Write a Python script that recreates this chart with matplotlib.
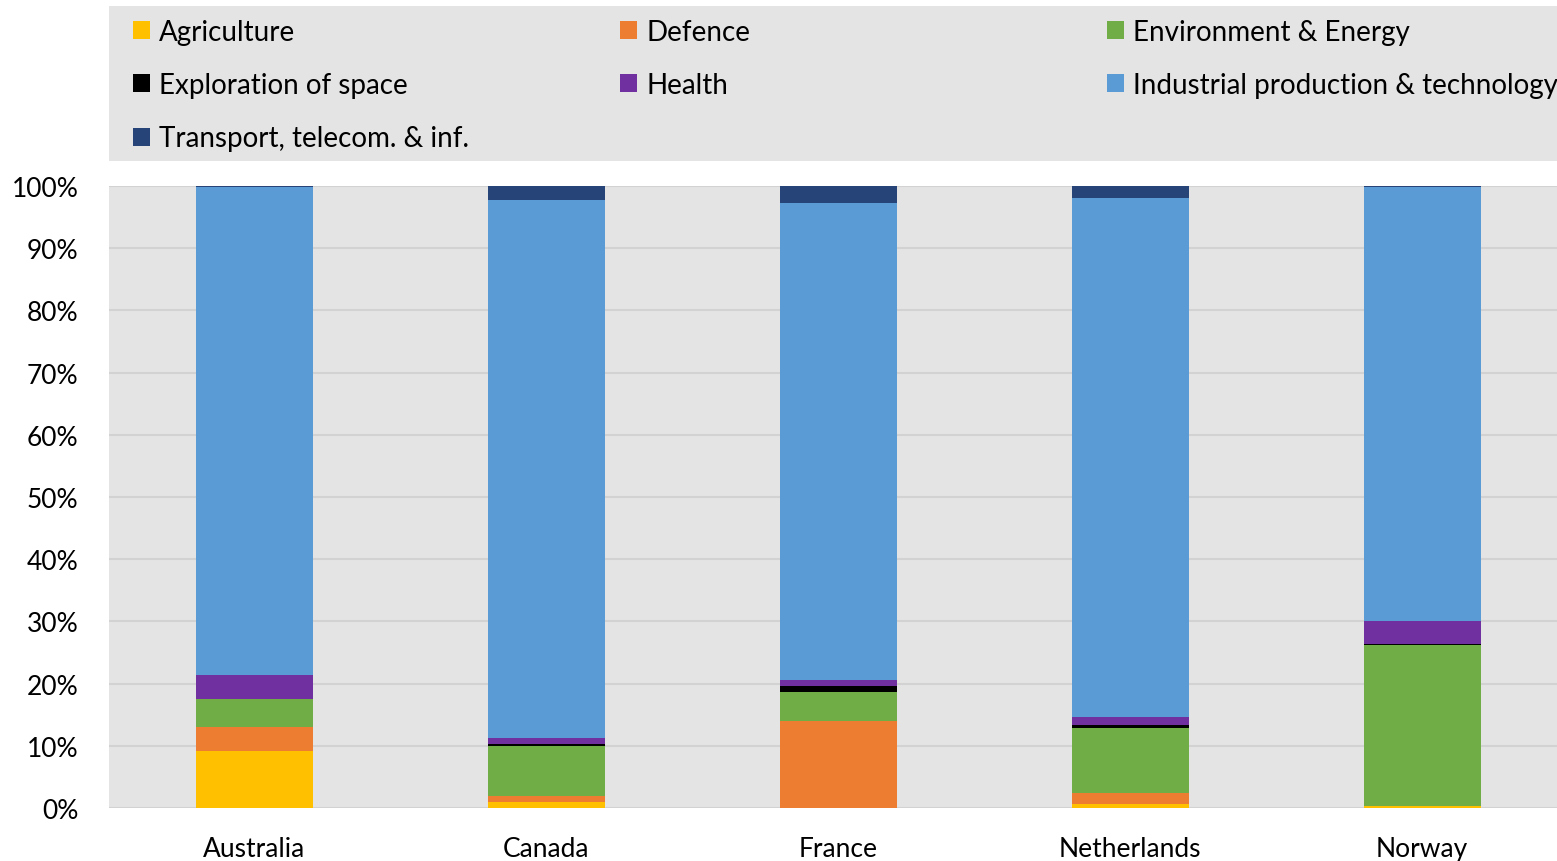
import numpy as np
import matplotlib
matplotlib.use("Agg")
import matplotlib.pyplot as plt
from matplotlib.patches import Rectangle

plt.rcParams['font.family'] = ['Lato', 'DejaVu Sans']

countries = ["Australia", "Canada", "France", "Netherlands", "Norway"]

agriculture = [9.2, 1.0, 0.0, 0.6, 0.3]
defence = [3.8, 1.0, 14.0, 1.8, 0.0]
environment = [4.6, 8.0, 4.6, 10.4, 25.9]
space = [0.0, 0.3, 1.0, 0.5, 0.2]
health = [3.8, 0.9, 0.9, 1.3, 3.6]
industrial = [78.5, 86.5, 76.7, 83.4, 69.8]
transport = [0.1, 2.3, 2.8, 2.0, 0.2]

series = [
    ("Agriculture", agriculture, "#FFC000"),
    ("Defence", defence, "#ED7D31"),
    ("Environment & Energy", environment, "#70AD47"),
    ("Exploration of space", space, "#000000"),
    ("Health", health, "#7030A0"),
    ("Industrial production & technology", industrial, "#5B9BD5"),
    ("Transport, telecom. & inf.", transport, "#264478"),
]

W, H = 1557, 862
fig = plt.figure(figsize=(W / 100, H / 100), dpi=100)
fig.patch.set_facecolor("white")

# grey band behind the legend
fig.patches.append(Rectangle((109 / W, 1 - 162 / H), 1 - 109 / W, 155 / H,
                             transform=fig.transFigure, facecolor="#E4E4E4",
                             edgecolor="none", zorder=0))

# plot area runs off the right edge of the picture
ax = fig.add_axes([109 / W, (H - 809) / H, 1 - 109 / W, (809 - 187) / H])
ax.set_facecolor("#E4E4E4")

x = np.arange(len(countries))
tot = np.array([sum(s[1][i] for s in series) for i in range(len(countries))])
bottoms = np.zeros(len(countries))
handles = {}
for name, vals, col in series:
    frac = np.array(vals) / tot
    b = ax.bar(x, frac, 0.4, bottom=bottoms, color=col, label=name, zorder=3)
    handles[name] = b
    bottoms += frac

ax.set_xlim(-0.497, -0.497 + (W - 109) / 292)
ax.set_ylim(0, 1)
yt = np.arange(0, 1.01, 0.1)
ax.set_yticks(yt)
ax.set_yticklabels([f"{int(round(t * 100))}%" for t in yt])
ax.set_xticks(x)
ax.set_xticklabels(countries)
ax.tick_params(axis="both", length=0, labelsize=19, colors="#000000")
ax.tick_params(axis="y", pad=22)
ax.tick_params(axis="x", pad=20)
ax.grid(axis="y", color="#D2D2D2", linewidth=1.5, zorder=0)
for s in ax.spines.values():
    s.set_visible(False)

# legend: three columns laid out row by row
cols = [
    ["Agriculture", "Exploration of space", "Transport, telecom. & inf."],
    ["Defence", "Health"],
    ["Environment & Energy", "Industrial production & technology"],
]
col_x = [133, 620, 1107]
for names, cx in zip(cols, col_x):
    fig.legend([handles[n] for n in names], names,
               loc="upper left", bbox_to_anchor=(cx / W, 1 - 20 / H),
               frameon=False, fontsize=20, borderpad=0, borderaxespad=0,
               handlelength=0.62, handleheight=0.62, handletextpad=0.32,
               labelspacing=0.98)

fig.savefig("out.png", dpi=100)
